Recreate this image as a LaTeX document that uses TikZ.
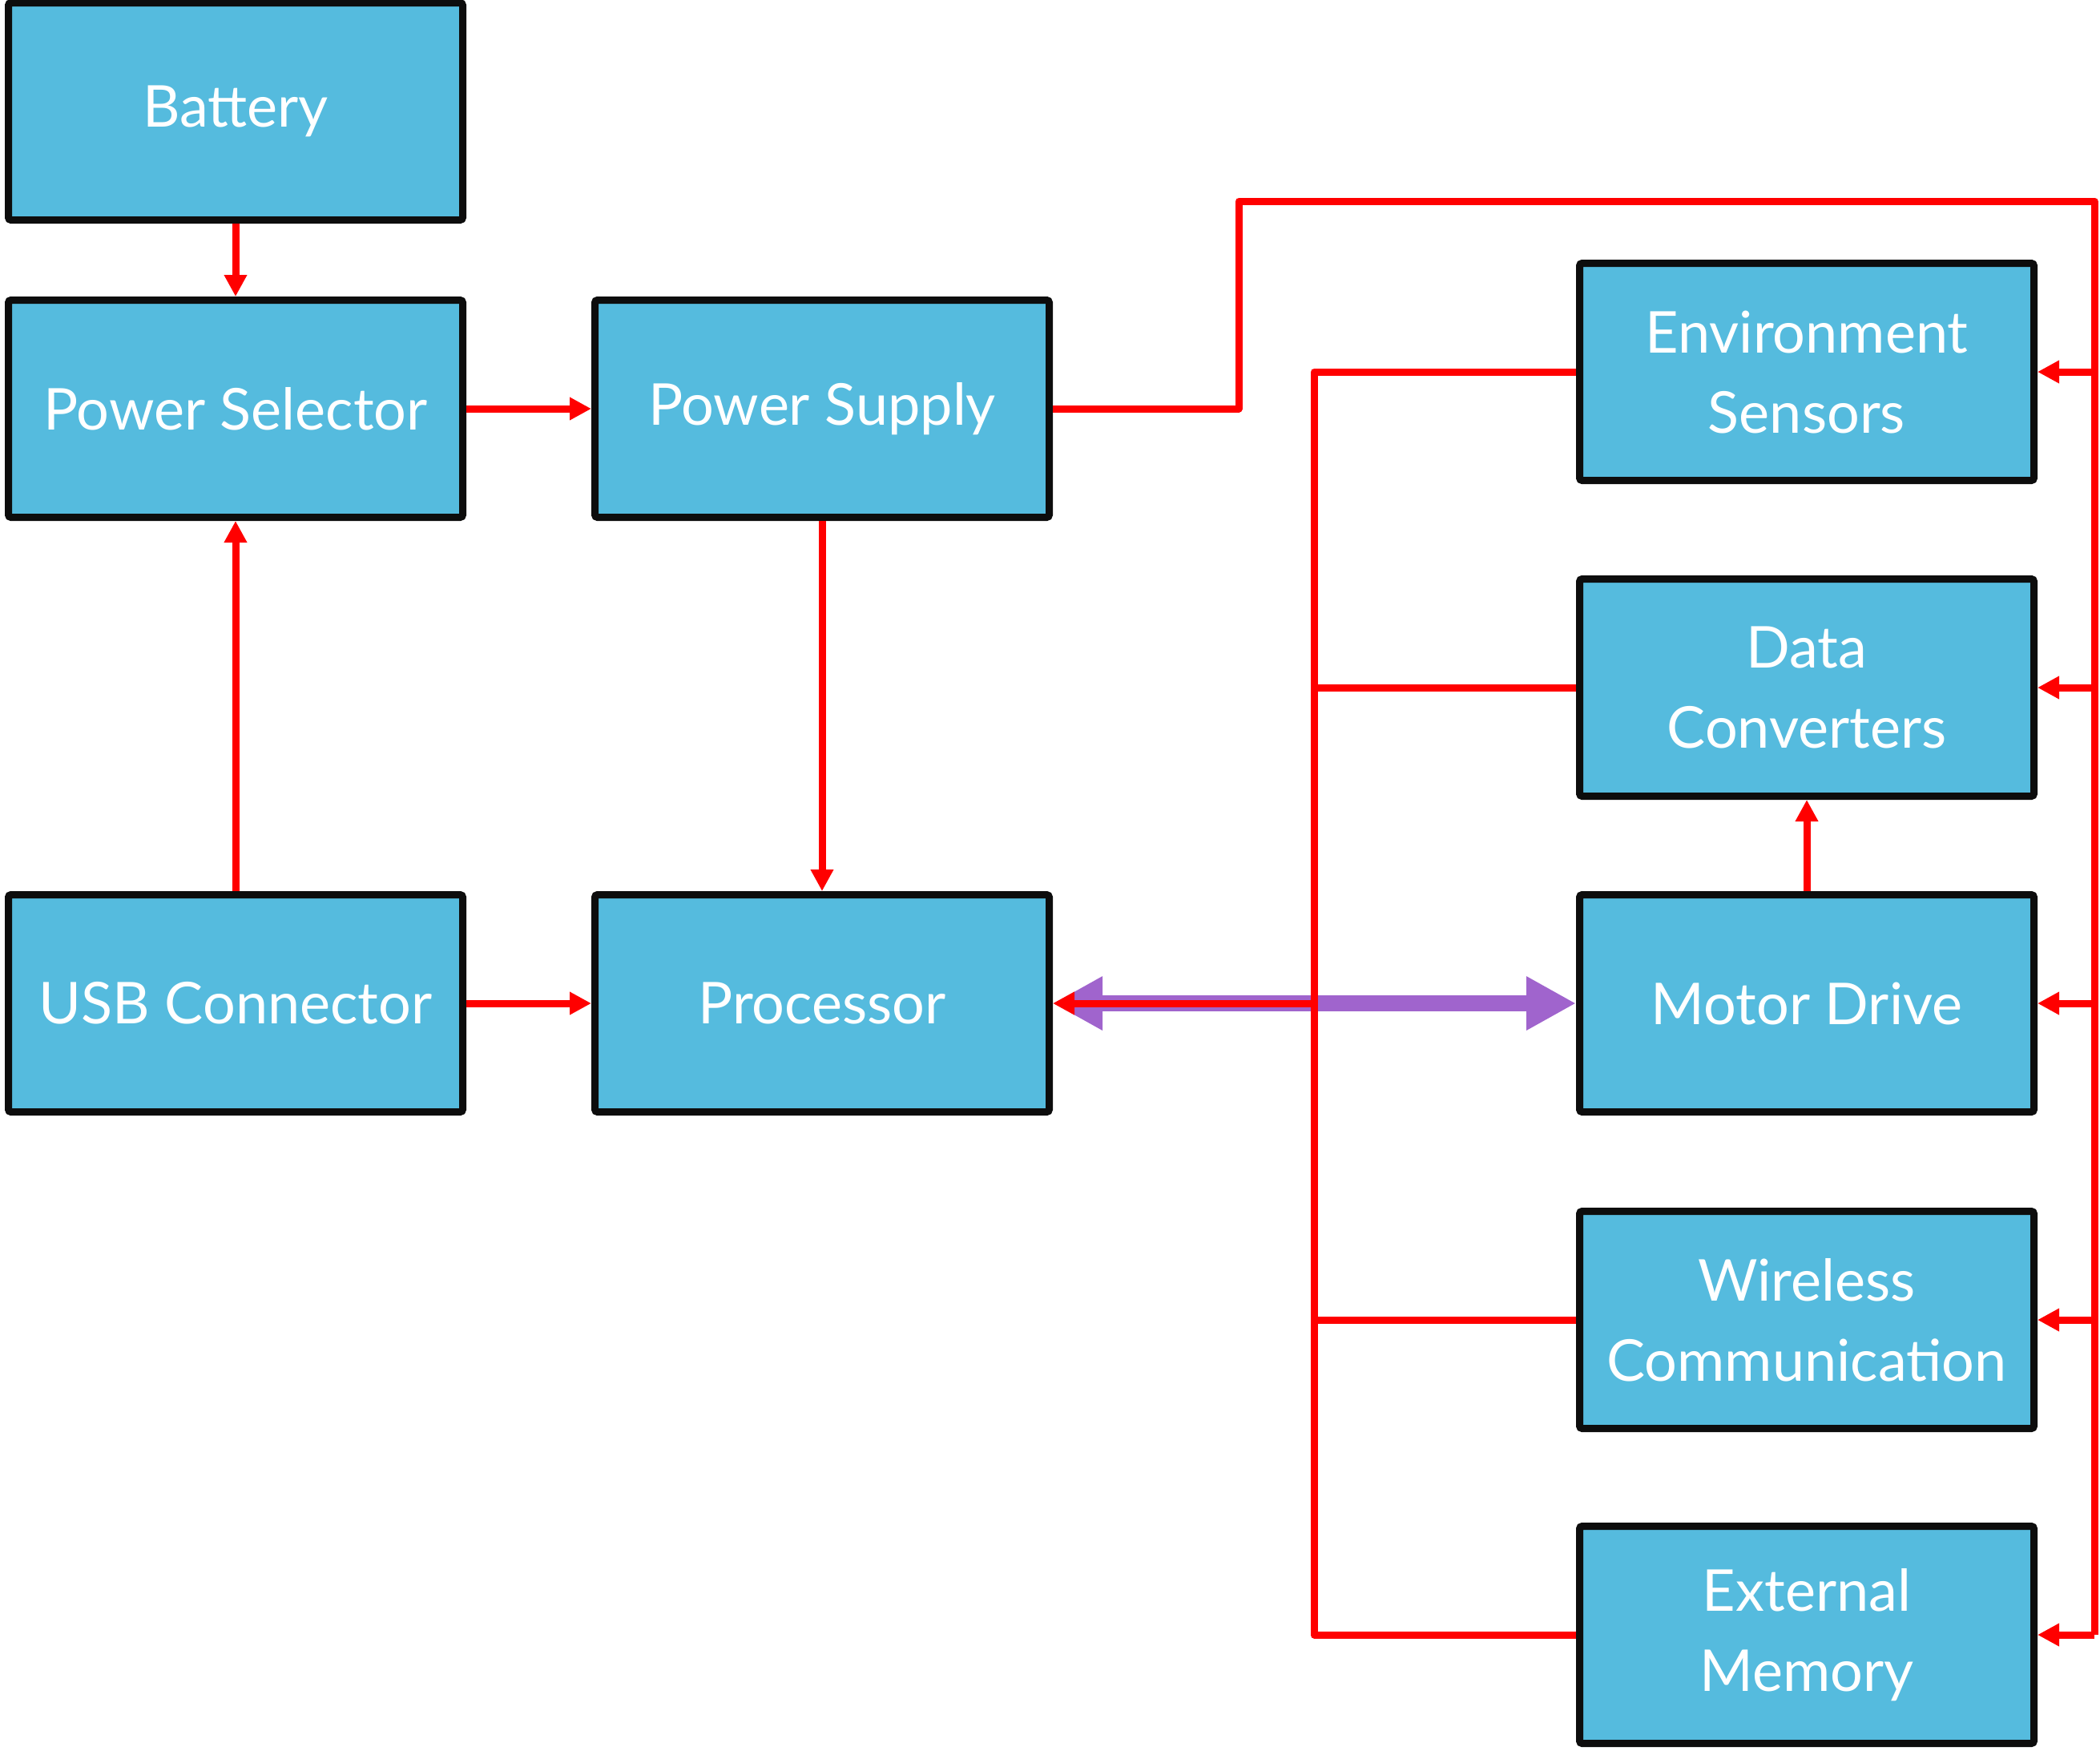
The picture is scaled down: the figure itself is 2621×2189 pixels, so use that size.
\documentclass[tikz,border=0pt]{standalone}
\usepackage{fontspec}
\setmainfont{Lato}
\usetikzlibrary{arrows.meta}
\definecolor{boxblue}{RGB}{85,187,222}
\definecolor{boxedge}{RGB}{13,13,13}
\definecolor{wirered}{RGB}{255,0,0}
\definecolor{buspurple}{RGB}{160,100,205}
\begin{document}
\begin{tikzpicture}[x=0.25pt,y=-0.25pt,
  blk/.style={draw=boxedge, fill=boxblue, line width=2.25pt, rounded corners=0.8pt,
    minimum width=141.75pt, minimum height=67.75pt, inner sep=0pt, text=white,
    font=\fontsize{18}{25}\selectfont, align=center},
  wire/.style={draw=wirered, line width=2.25pt, line join=round},
  arr/.style={wire, -{Triangle[length=6.75pt,width=6.75pt]}},
  busarr/.style={draw=buspurple, line width=5.2pt,
    {Triangle[length=15.5pt,width=15.75pt]}-{Triangle[length=15.5pt,width=15.75pt]}}]
\useasboundingbox (0,0) rectangle (2621,2189);
\node[blk] (bat) at (294,139) {Battery};
\node[blk] (sel) at (294,510) {Power Selector};
\node[blk] (sup) at (1026,510) {Power Supply};
\node[blk] (usb) at (294,1252) {USB Connector};
\node[blk] (proc) at (1026,1252) {Processor};
\node[blk] (env) at (2255,464) {Environment\\Sensors};
\node[blk] (dat) at (2255,858) {Data\\Converters};
\node[blk] (mot) at (2255,1252) {Motor Drive};
\node[blk] (wir) at (2255,1647) {Wireless\\Communication};
\node[blk] (ext) at (2255,2040) {External\\Memory};
\coordinate (tl) at (1546,251);
\coordinate (tr) at (2614,251);
\coordinate (rb) at (2614,2040);
\coordinate (lx) at (1640,464);
% power and data wiring
\draw[busarr] (proc) -- (mot);
\draw[arr] (bat) -- (sel);
\draw[arr] (sel) -- (sup);
\draw[arr] (usb) -- (sel);
\draw[arr] (usb) -- (proc);
\draw[arr] (sup) -- (proc);
\draw[arr] (mot) -- (dat);
\draw[wire] (sup.east) -- (sup.east -| tl) -- (tl) -- (tr) -- (rb);
\draw[arr] (env.east -| tr) -- (env.east);
\draw[arr] (dat.east -| tr) -- (dat.east);
\draw[arr] (mot.east -| tr) -- (mot.east);
\draw[arr] (wir.east -| tr) -- (wir.east);
\draw[arr] (rb) -- (ext.east);
\draw[wire] (env.west) -- (env.west -| lx) -- (ext.west -| lx) -- (ext.west);
\draw[wire] (dat.west) -- (dat.west -| lx);
\draw[wire] (wir.west) -- (wir.west -| lx);
\draw[arr] (mot.west -| lx) -- (proc.east);
\end{tikzpicture}
\end{document}
